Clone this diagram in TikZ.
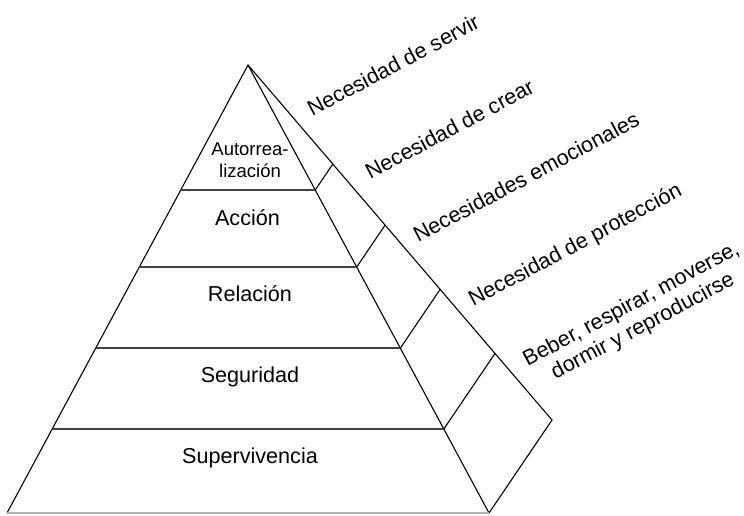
\documentclass[tikz,border=0pt]{standalone}
\usepackage{fontspec}
\setmainfont{Liberation Sans}
\usetikzlibrary{calc}
\tikzstyle{every node}=[font=\fontsize{10.8}{12.3}\selectfont, inner sep=0pt]
\tikzstyle{tier}=[anchor=base]
\tikzstyle{need}=[anchor=base west, rotate=28]
\tikzstyle{edge}=[line width=0.55pt, line join=miter]
\tikzstyle{cut}=[line width=0.75pt, black!75]

\begin{document}
\begin{tikzpicture}[x=0.5pt, y=-0.5pt]
    \useasboundingbox (0,0) rectangle (744,515);
    \coordinate (top) at (248,65);
    \coordinate (bl) at (7,513);
    \coordinate (br) at (489,513);
    \coordinate (side) at (552,420);
    % pyramid
    \draw[edge] (bl) -- (top) -- (br);
    \draw[edge] (top) -- (side) -- (br);
    \draw[edge, black!30] (bl) -- (br);
    \foreach \f in {0.279,0.451,0.632,0.8125} {
        \draw[cut] ($(top)!\f!(bl)$) -- ($(top)!\f!(br)$);
        \draw[edge] ($(top)!\f!(br)$) -- ($(top)!\f!(side)$);
    }
    % levels
    \node[align=center, font=\fontsize{9.25}{11}\selectfont] (aut) at (250,160.5) {Autorrea-\\lización};
    \node[tier] (acc) at (247.5,225) {Acción};
    \node[tier] (rel) at (250,301) {Relación};
    \node[tier] (seg) at (250,382) {Seguridad};
    \node[tier] (sup) at (250,463) {Supervivencia};
    % needs
    \node[need] (serv) at (312,117) {Necesidad de servir};
    \node[need] (crear) at (370,180) {Necesidad de crear};
    \node[need] (emoc) at (418,243) {Necesidades emocionales};
    \node[need] (prot) at (473,307) {Necesidad de protección};
    \node[need, anchor=center, align=center] (beber) at (637.4,315.9) {Beber, respirar, moverse,\\dormir y reproducirse};
\end{tikzpicture}
\end{document}
